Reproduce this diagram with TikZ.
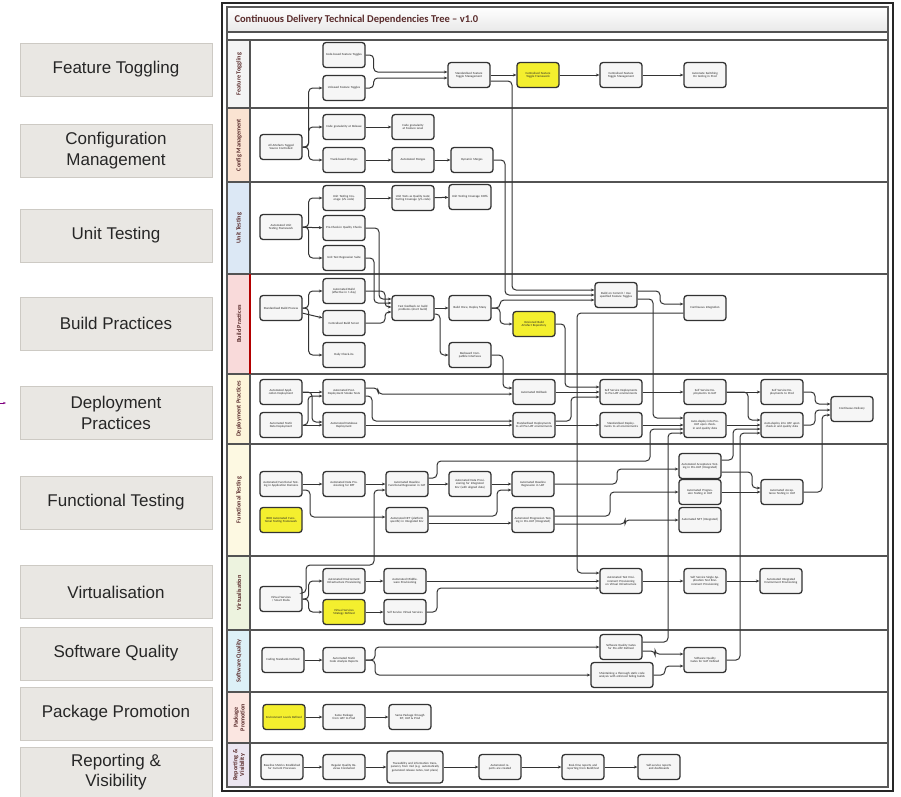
\documentclass[tikz,border=0pt]{standalone}
\usepackage{fontspec}
\setmainfont{Liberation Sans}
\newfontfamily\calfont{Carlito}
\usepackage{tikz}
\usetikzlibrary{positioning,calc,arrows.meta}

\definecolor{boxgray}{HTML}{E9E7E3}
\definecolor{boxline}{HTML}{CDCAC4}
\definecolor{goalyellow}{HTML}{F4EF2E}
\definecolor{titlebrown}{HTML}{5A2C2C}
\definecolor{ftcol}{HTML}{F4F4F4}
\definecolor{cmcol}{HTML}{FAE3D2}
\definecolor{utcol}{HTML}{DCE8F5}
\definecolor{bpcol}{HTML}{F9DADA}
\definecolor{dpcol}{HTML}{FDF5DA}
\definecolor{fncol}{HTML}{FDF9E2}
\definecolor{vicol}{HTML}{EDF3DF}
\definecolor{sqcol}{HTML}{DDF0F7}
\definecolor{ppcol}{HTML}{FBE6E1}
\definecolor{rvcol}{HTML}{ECE6F1}

\tikzset{
  lbox/.style={draw=boxline, fill=boxgray, line width=0.8pt, minimum width=192pt,
    minimum height=53pt, align=center, text=black!85,
    font=\fontsize{17}{20.5}\selectfont},
  task/.style={draw=gray!40!black, line width=1.3pt, rounded corners=3pt,
    fill=gray!7, minimum width=42pt, minimum height=25pt, inner sep=1pt,
    text width=38pt, align=center, text=black!85,
    font=\calfont\fontsize{3.1}{3.6}\selectfont},
  goal/.style={task, fill=goalyellow},
  link/.style={draw=gray!40!black, line width=1pt, rounded corners=4pt,
    -{Stealth[length=3.5pt,width=3pt]}},
  lanelab/.style={rotate=90, align=center, text=titlebrown,
    font=\calfont\bfseries\fontsize{6.2}{6.8}\selectfont},
  lanesep/.style={draw=gray!65!black, line width=1.3pt}
}

\begin{document}
\begin{tikzpicture}[x=1pt,y=-1pt]
\useasboundingbox (0,0) rectangle (901,796);

% Left column
\node[lbox] (lft) at (116,69.5) {Feature Toggling};
\node[lbox] (lcm) at (116,150.5) {Configuration\\Management};
\node[lbox] (lut) at (116,235.5) {Unit Testing};
\node[lbox] (lbp) at (116,323.5) {Build Practices};
\node[lbox] (ldp) at (116,413) {Deployment\\Practices};
\node[lbox] (lfn) at (116,502.5) {Functional Testing};
\node[lbox] (lvi) at (116,592) {Virtualisation};
\node[lbox] (lsq) at (116,653.5) {Software Quality};
\node[lbox] (lpp) at (116,713.5) {Package Promotion};
\node[lbox, minimum height=50pt] (lrv) at (116,772) {Reporting \&\\Visibility};
\coordinate (pa) at (0,403);
\coordinate (pb) at (6,403);
\draw[-{Stealth[length=3pt]}, violet, line width=0.8pt] (pa) -- (pb);

% Frame and title bar
\fill[white] (222,3) rectangle (893,791);
\shade[top color=white, bottom color=gray!18] (227,7) rectangle (888,32);
\node[anchor=west, text=titlebrown, font=\calfont\bfseries\fontsize{10.5}{12}\selectfont]
  (title) at (231,20) {Continuous Delivery Technical Dependencies Tree – v1.0};

% Lane strips
\fill[ftcol] (228,40) rectangle (250,108);
\fill[cmcol] (228,108) rectangle (250,182);
\fill[utcol] (228,182) rectangle (250,274);
\fill[bpcol] (228,274) rectangle (250,374);
\fill[dpcol] (228,374) rectangle (250,444);
\fill[fncol] (228,444) rectangle (250,556);
\fill[vicol] (228,556) rectangle (250,630);
\fill[sqcol] (228,630) rectangle (250,692);
\fill[ppcol] (228,692) rectangle (250,743);
\fill[rvcol] (228,743) rectangle (250,787);
\node[lanelab] (lab1) at (239,74) {Feature Toggling};
\node[lanelab] (lab2) at (239,145) {Config Management};
\node[lanelab] (lab3) at (239,228) {Unit Testing};
\node[lanelab] (lab4) at (239,324) {Build Practices};
\node[lanelab] (lab5) at (239,409) {Deployment Practices};
\node[lanelab] (lab6) at (239,500) {Functional Testing};
\node[lanelab] (lab7) at (239,593) {Virtualisation};
\node[lanelab] (lab8) at (239,661) {Software Quality};
\node[lanelab] (lab9) at (239,717.5) {Package\\Promotion};
\node[lanelab] (lab10) at (239,765) {Reporting \&\\Visibility};

% Lane lines
\draw[lanesep] (227,32) -- (888,32);
\draw[lanesep] (227,40) -- (888,40);
\draw[lanesep] (227,108) -- (888,108);
\draw[lanesep] (227,182) -- (888,182);
\draw[lanesep] (227,274) -- (888,274);
\draw[lanesep] (227,374) -- (888,374);
\draw[lanesep] (227,444) -- (888,444);
\draw[lanesep] (227,556) -- (888,556);
\draw[lanesep] (227,630) -- (888,630);
\draw[lanesep] (227,692) -- (888,692);
\draw[lanesep] (227,743) -- (888,743);
\draw[lanesep] (250,40) -- (250,787);
\draw[red!70!black, line width=1.3pt] (250,274) -- (250,374);
\draw[gray!70!black, line width=1.3pt] (227,7) rectangle (888,787);
\draw[black!85, line width=2.6pt] (222,3) rectangle (893,791);

% Feature Toggling
\node[task] (ft1) at (344,55) {Code-based Feature Toggles};
\node[task] (ft2) at (344,88) {UI-based Feature Toggles};
\node[task] (ft3) at (469,75) {Standardised Feature Toggle Management};
\node[goal] (ft4) at (538,75) {Centralised Feature Toggle Framework};
\node[task] (ft5) at (621,75) {Centralised Feature Toggle Management};
\node[task] (ft6) at (705,75) {Automate Switching On testing in Prod};

% Configuration Management
\node[task] (cm0) at (281,147) {All Artefacts Tagged Source Controlled};
\node[task] (cm1) at (344,127) {Code granularity at Release};
\node[task] (cm2) at (413,127) {Code granularity at Feature Level};
\node[task] (cm3) at (344,160) {Trunk-based Changes};
\node[task] (cm4) at (413,160) {Automated Merges};
\node[task] (cm5) at (472,160) {Dynamic Merges};

% Unit Testing
\node[task] (ut0) at (281,227) {Automated Unit Testing Framework};
\node[task] (ut1) at (344,198) {Unit Testing Coverage (x\% code)};
\node[task] (ut2) at (413,198) {Unit Tests as Quality Gate: Testing Coverage (y\% code)};
\node[task] (ut3) at (470,197) {Unit Testing Coverage 100\%};
\node[task] (ut4) at (344,228) {Pre-Check-in Quality Checks};
\node[task] (ut5) at (344,258) {Unit Test Regression Suite};

% Build Practices
\node[task] (bp0) at (281,308) {Standardised Build Process};
\node[task] (bp1) at (344,291) {Automated Build (effective in 1 day)};
\node[task] (bp2) at (344,323) {Centralised Build Server};
\node[task] (bp3) at (344,355) {Daily Check-ins};
\node[task] (bp4) at (413,308) {Fast feedback on build problems (short build)};
\node[task] (bp5) at (470,308) {Build Once, Deploy Many};
\node[goal] (bp6) at (534,324) {Versioned Build Artefact Repository};
\node[task] (bp7) at (470,355) {Backward Compatible Interfaces};
\node[task] (bp8) at (616,295) {Build on Commit / Use specified Feature Toggles};
\node[task] (bp9) at (705,308) {Continuous Integration};

% Deployment Practices
\node[task] (dp0) at (281,392) {Automated Application Deployment};
\node[task] (dp1) at (281,425) {Automated Static Data Deployment};
\node[task] (dp2) at (344,392) {Automated Post-Deployment Smoke Tests};
\node[task] (dp3) at (344,425) {Automated Database Deployment};
\node[task] (dp4) at (534,392) {Automated Rollback};
\node[task] (dp5) at (534,425) {Standardised Deployments to all Pre-UAT environments};
\node[task] (dp6) at (621,392) {Self Service Deployments to Pre-UAT environments};
\node[task] (dp7) at (621,425) {Standardised Deployments to all environments};
\node[task] (dp8) at (705,392) {Self Service Deployments to UAT};
\node[task] (dp9) at (782,392) {Self Service Deployments to Prod};
\node[task] (dp10) at (705,425) {Auto-deploy into Pre-UAT upon check-in and quality data};
\node[task] (dp11) at (782,425) {Auto-deploy into UAT upon check-in and quality data};
\node[task] (dp12) at (852,409) {Continuous Delivery};

% Functional Testing
\node[task] (f0) at (281,484) {Automated Functional Testing in Application Domains};
\node[goal] (f1) at (281,520) {BDD Automated Functional Testing Framework};
\node[task] (f2) at (344,484) {Automated Data Provisioning for BFT};
\node[task] (f3) at (407,484) {Automated Baseline Functional Regression in CAT};
\node[task] (f4) at (470,484) {Automated Data Provisioning for Integrated Env (with aligned data)};
\node[task] (f5) at (533,484) {Automated Baseline Regression in UAT};
\node[task] (f6) at (407,520) {Automated NFT (platform specific) in Integrated Env};
\node[task] (f7) at (533,520) {Automated Progression Testing in Pre-UAT (Integrated)};
\node[task] (f8) at (700,466) {Automated Acceptance Testing in Pre-UAT (Integrated)};
\node[task] (f9) at (700,492) {Automated Progression Testing in UAT};
\node[task] (f10) at (700,520) {Automated NFT (Integrated)};
\node[task] (f11) at (782,492) {Automated Acceptance Testing in UAT};

% Virtualisation
\node[task] (v0) at (281,599) {Virtual Services / Smart Stubs};
\node[task] (v1) at (344,581) {Automated Environment Infrastructure Provisioning};
\node[goal] (v2) at (344,612) {Virtual Services Strategy Defined};
\node[task] (v3) at (405,581) {Automated Middleware Provisioning};
\node[task] (v4) at (405,612) {Self Service Virtual Services};
\node[task] (v5) at (621,581) {Automated Test Environment Provisioning on Virtual Infrastructure};
\node[task] (v6) at (705,581) {Self Service Single Application Test Environment Provisioning};
\node[task] (v7) at (781,581) {Automated Integrated Environment Provisioning};

% Software Quality
\node[task] (sq0) at (283,660) {Coding Standards Defined};
\node[task] (sq1) at (344,660) {Automated Static Code Analysis Reports};
\node[task] (sq2) at (621,647) {Software Quality Gates for Pre-UAT Defined};
\node[task, minimum width=62pt, text width=58pt] (sq3) at (622,675)
  {Maintaining a thorough static code analysis with enforced failing builds};
\node[task] (sq4) at (705,660) {Software Quality Gates for UAT Defined};

% Package Promotion
\node[goal] (pp0) at (284,717) {Environment Levels Defined};
\node[task] (pp1) at (344,717) {Same Package from UAT to Prod};
\node[task] (pp2) at (410,717) {Same Package through SIT, UAT \& Prod};

% Reporting & Visibility
\node[task] (rv0) at (282,767) {Baseline Metrics Established for Current Processes};
\node[task] (rv1) at (344,767) {Regular Quality Reviews Conducted};
\node[task, minimum width=56pt, text width=52pt, minimum height=32pt] (rv2) at (415,767)
  {Traceability and information transparency from mid (e.g. automatically generated release notes, test plans)};
\node[task] (rv3) at (500,767) {Automated reports are created};
\node[task] (rv4) at (583,767) {Real-time reports and reporting from Build/test};
\node[task] (rv5) at (659,767) {Self-service reports and dashboards};

% Connectors: feature toggling
\draw[link] (ft1.east) -- ++(8,0) |- ([yshift=3pt]ft3.west);
\draw[link] (ft2.east) -- ++(8,0) |- ([yshift=-3pt]ft3.west);
\draw[link] (ft3) -- (ft4);
\draw[link] (ft4) -- (ft5);
\draw[link] (ft5) -- (ft6);
\draw[link] ([yshift=-6pt]ft3.east) -- (512,81) |- ([yshift=5pt]bp8.west);

% Connectors: configuration management
\draw[link] (cm0.east) -- ++(6,0) |- (ft2.west);
\draw[link] (cm0.east) -- ++(6,0) |- (cm1.west);
\draw[link] (cm0.east) -- ++(6,0) |- (cm3.west);
\draw[link] (cm1) -- (cm2);
\draw[link] (cm3) -- (cm4);
\draw[link] (cm4) -- (cm5);
\draw[link] (cm5.east) -- (505,160) |- (bp8.west);

% Connectors: unit testing
\draw[link] (ut0.east) -- ++(6,0) |- (ut1.west);
\draw[link] (ut0) -- (ut4);
\draw[link] (ut0.east) -- ++(6,0) |- (ut5.west);
\draw[link] (ut1) -- (ut2);
\draw[link] (ut2) -- (ut3);
\draw[link] (ut4.east) -- (379,228) |- ([yshift=9pt]bp4.west);
\draw[link] (ut5.east) -- (374,258) |- ([yshift=5pt]bp4.west);

% Connectors: build practices
\draw[link] (bp0.east) -- ++(6,0) |- (bp1.west);
\draw[link] (bp0) -- (bp2);
\draw[link] (bp0.east) -- ++(6,0) |- (bp3.west);
\draw[link] (bp1.east) -- (385,291) |- ([yshift=1pt]bp4.west);
\draw[link] (bp2.east) -- (385,323) |- ([yshift=-4pt]bp4.west);
\draw[link] (bp4) -- (bp5);
\draw[link] ([yshift=-6pt]bp4.east) -- (440,314) |- (bp7.west);
\draw[link] (bp5.east) -- (500,308) |- (bp6.west);
\draw[link] (bp5.east) -- (500,308) |- ([yshift=-5pt]bp8.west);
\draw[link] (bp6.east) -- (565,324) |- ([yshift=5pt]dp6.west);
\draw[link] (bp7.east) -- (503,355) |- ([yshift=4pt]dp4.west);
\draw[link] ([yshift=4pt]bp8.east) -- (660,291) |- ([yshift=4pt]bp9.west);
\draw[link] ([yshift=-4pt]bp8.east) -- (653,299) |- ([yshift=7pt]dp10.west);
\draw[link] ([yshift=-5pt]bp9.west) -- (577,313) |- ([yshift=8pt]v5.west);

% Connectors: deployment practices
\draw[link] (dp0) -- (dp2);
\draw[link] (dp0.east) -- (312,392) |- ([yshift=3pt]dp3.west);
\draw[link] (dp1.east) -- (308,425) |- ([yshift=-4pt]dp2.west);
\draw[link] (dp1) -- (dp3);
\draw[link] ([yshift=4pt]dp2.east) -- (378,388) |- ([yshift=-2pt]dp4.west);
\draw[link] ([yshift=-4pt]dp2.east) -- (372,396) |- ([yshift=4pt]dp5.west);
\draw[link] (dp3) -- (dp5);
\draw[link] (dp4) -- (dp6);
\draw[link] ([yshift=4pt]dp5.east) -- (571,421) |- ([yshift=-5pt]dp6.west);
\draw[link] (dp5) -- (dp7);
\draw[link] (dp6) -- (dp8);
\draw[link] (dp7) -- (dp10);
\draw[link] (dp8) -- (dp9);
\draw[link] (dp8.east) -- (748,392) |- ([yshift=5pt]dp11.west);
\draw[link] (dp10) -- (dp11);
\draw[link] (dp9.east) -- (815,392) |- ([yshift=5pt]dp12.west);
\draw[link] (dp11.east) -- (815,425) |- ([yshift=-1pt]dp12.west);

% Connectors: functional testing
\draw[link] (f0) -- (f2);
\draw[link] (f2) -- (f3);
\draw[link] (f3) -- (f4);
\draw[link] (f4) -- (f5);
\draw[link] ([yshift=-6pt]f0.east) -- (310,490) |- ([yshift=3pt]f6.west);
\draw[link] ([yshift=6pt]f3.east) -- (437,478) -- (437,461) -- (650,461) |- ([yshift=-4pt]dp10.west);
\draw[link] (f5.east) -- (617,484) |- ([yshift=-3pt]f8.west);
\draw[link] ([yshift=4pt]f6.east) -- (497,516) |- ([yshift=-6pt]f5.west);
\draw[link] ([yshift=-3pt]f6.east) -- ([yshift=-3pt]f7.west);
\draw[link] ([yshift=4pt]f7.east) -- (610,516) |- (f9.west);
\draw[link] ([yshift=-4pt]f7.east) -- (625,524) |- (f10.west);
\draw[link] ([yshift=6pt]f8.east) -- (733,460) |- ([yshift=-4pt]dp11.west);
\draw[link] ([yshift=-6pt]f8.east) -- (752,472) |- ([yshift=4pt]f11.west);
\draw[link] (f9) -- (f11);
\draw[link] (f11.east) -- (822,492) |- ([yshift=-6pt]dp12.west);

% Connectors: virtualisation
\draw[link] (v0.east) -- ++(6,0) |- (v1.west);
\draw[link] (v0.east) -- ++(6,0) |- (v2.west);
\draw[link] ([yshift=6pt]v0.east) -- (306,593) -- (306,565) -- (374,565) |- ([yshift=-6pt]f3.west);
\draw[link] (v1) -- (v3);
\draw[link] (v2) -- (v4);
\draw[link] (v3) -- (v5);
\draw[link] (v4.east) -- (437,612) |- ([yshift=-7pt]v5.west);
\draw[link] (v5) -- (v6);
\draw[link] (v6) -- (v7);

% Connectors: software quality
\draw[link] (sq0) -- (sq1);
\draw[link] (sq1.east) -- (375,660) |- (sq2.west);
\draw[link] (sq1.east) -- (375,660) |- (sq3.west);
\draw[link] ([yshift=-4pt]sq2.east) -- (655,651) |- ([yshift=6pt]sq4.west);
\draw[link] (sq3.east) -- (665,675) |- ([yshift=-6pt]sq4.west);
\draw[link] ([yshift=5pt]sq2.east) -- (668,642) |- ([yshift=-8pt]dp10.west);
\draw[link] (sq4.east) -- (740,660) |- ([yshift=-8pt]dp11.west);

% Connectors: package promotion
\draw[link] (pp0) -- (pp1);
\draw[link] (pp1) -- (pp2);

% Connectors: reporting
\draw[link] (rv0) -- (rv1);
\draw[link] (rv1) -- (rv2);
\draw[link] (rv2) -- (rv3);
\draw[link] (rv3) -- (rv4);
\draw[link] (rv4) -- (rv5);
\end{tikzpicture}
\end{document}
